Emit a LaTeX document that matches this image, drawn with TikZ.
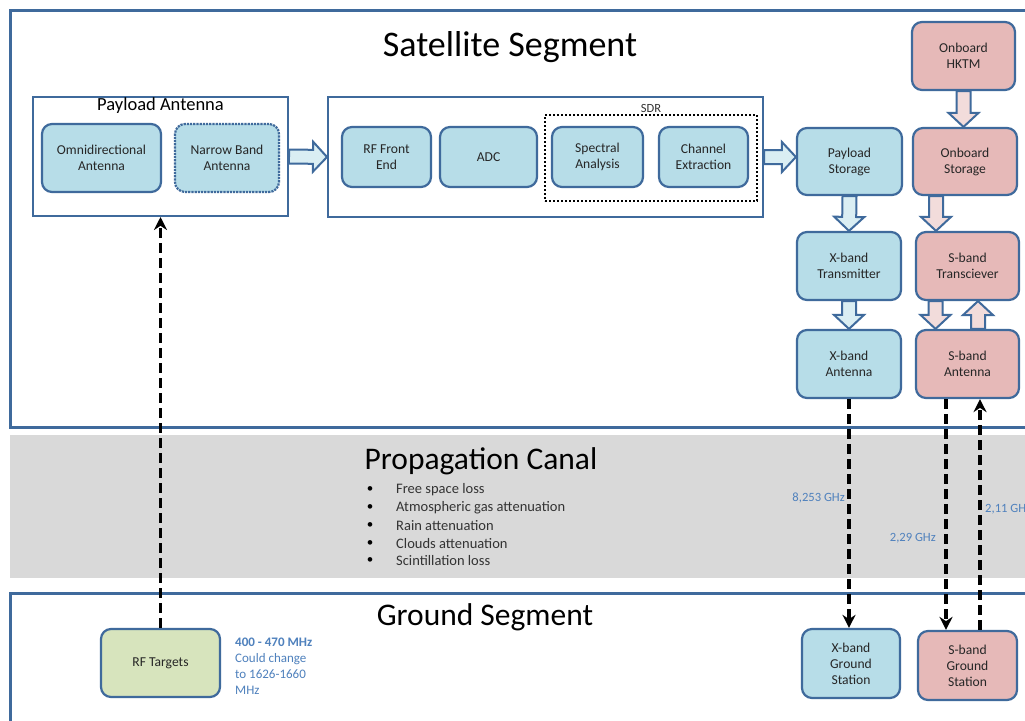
\documentclass[tikz,border=0pt]{standalone}
\usepackage{fontspec}
\setmainfont{Carlito}
\usetikzlibrary{arrows.meta, calc}

\definecolor{frameblue}{HTML}{3F6A9C}
\definecolor{boxblue}{HTML}{B7DDE8}
\definecolor{boxred}{HTML}{E6B9B8}
\definecolor{boxgreen}{HTML}{D7E4BD}
\definecolor{lightblue}{HTML}{DAEEF3}
\definecolor{lightred}{HTML}{F2DCDB}
\definecolor{canalgray}{HTML}{D9D9D9}
\definecolor{freqblue}{HTML}{4F81BD}

% block arrow between two points: from, to, fill
\newcommand\fatarrow[3]{%
  \filldraw[draw=frameblue, line width=2pt, fill=#3, line join=miter]
    let \p1=#1, \p2=#2, \n1={veclen(\x2-\x1,\y2-\y1)}, \n2={atan2(\y2-\y1,\x2-\x1)} in
    {[shift={(\p1)}, rotate=\n2]
     (0,-7) -- ({\n1-14},-7) -- ({\n1-14},-15) -- (\n1,0) -- ({\n1-14},15) -- ({\n1-14},7) -- (0,7) -- cycle};
}

\begin{document}
\begin{tikzpicture}[x=1pt,y=-1pt,
    frame/.style={draw=frameblue, line width=3pt},
    block/.style={draw=frameblue, line width=2.2pt, rounded corners=10pt, align=center,
      font=\fontsize{13.6}{16}\selectfont, text=black!85, inner sep=2pt},
    group/.style={draw=frameblue, line width=2pt, fill=white},
    title/.style={font=\fontsize{31.5}{34}\selectfont},
    freq/.style={text=freqblue, font=\fontsize{12.6}{14}\selectfont, inner sep=2pt},
    dasharrow/.style={line width=3.5pt, dash pattern=on 10pt off 5pt, -{Stealth[length=13pt,width=13pt]}}]
  \clip (0,0) rectangle (1025,720);
  \fill[white] (0,0) rectangle (1025,720);

  % segments
  \draw[frame] (10,10) rectangle (1045,427);
  \fill[canalgray] (10,435) rectangle (1045,578);
  \draw[frame] (10,593) rectangle (1045,745);
  \node[title, font=\fontsize{36}{40}\selectfont] (sattitle) at (510,47) {Satellite Segment};
  \node[title] (canaltitle) at (481,461) {Propagation Canal};
  \node[title] (gndtitle) at (485,617) {Ground Segment};

  % propagation losses
  \foreach \txt [count=\i] in {Free space loss, Atmospheric gas attenuation, Rain attenuation,
      Clouds attenuation, Scintillation loss} {
    \node[font=\fontsize{13}{15}\selectfont] (bullet\i) at (370,{472+17.8*\i}) {•};
    \node[anchor=west, inner sep=0pt, text=black!80, font=\fontsize{14.5}{16}\selectfont]
      (loss\i) at (396,{472+17.8*\i}) {\txt};
  }

  % payload antenna
  \node[group, minimum width=255pt, minimum height=119pt] (payant) at (160.5,156.5) {};
  \node[anchor=north, inner sep=1.5pt, font=\fontsize{18.5}{20}\selectfont] (payanttitle) at (payant.north) {Payload Antenna};
  \node[block, fill=boxblue, minimum width=119pt, minimum height=68pt] (omni) at (101.5,158) {Omnidirectional\\Antenna};
  \node[block, fill=boxblue, densely dotted, minimum width=104pt, minimum height=68pt] (narrow) at (227,158) {Narrow Band\\Antenna};

  % SDR
  \node[group, minimum width=435pt, minimum height=120pt] (sdr) at (545.5,157) {};
  \node[draw, line width=2pt, dotted, minimum width=212pt, minimum height=86pt] (dsp) at (651,158) {};
  \node[anchor=south, inner sep=1.5pt, font=\fontsize{12.5}{14}\selectfont, text=black!80] (sdrtitle) at (dsp.north) {SDR};
  \node[block, fill=boxblue, minimum width=89pt, minimum height=60pt] (rffe) at (386.5,157) {RF Front\\End};
  \node[block, fill=boxblue, minimum width=97pt, minimum height=60pt] (adc) at (488.5,157) {ADC};
  \node[block, fill=boxblue, minimum width=91pt, minimum height=60pt] (spec) at (597.5,157) {Spectral\\Analysis};
  \node[block, fill=boxblue, minimum width=89pt, minimum height=60pt] (chan) at (703.5,157) {Channel\\Extraction};

  % payload chain
  \node[block, fill=boxblue, minimum width=105pt, minimum height=67pt] (pstor) at (849.5,161.5) {Payload\\Storage};
  \node[block, fill=boxblue, minimum width=104pt, minimum height=68pt] (xtx) at (849,266) {X-band\\Transmitter};
  \node[block, fill=boxblue, minimum width=104pt, minimum height=68pt] (xant) at (849,364) {X-band\\Antenna};

  % housekeeping chain
  \node[block, fill=boxred, minimum width=103pt, minimum height=68pt] (hktm) at (963.5,56) {Onboard\\HKTM};
  \node[block, fill=boxred, minimum width=104pt, minimum height=67pt] (ostor) at (965,161.5) {Onboard\\Storage};
  \node[block, fill=boxred, minimum width=103pt, minimum height=68pt] (stx) at (967.5,266) {S-band\\Transciever};
  \node[block, fill=boxred, minimum width=103pt, minimum height=68pt] (sant) at (967.5,364) {S-band\\Antenna};

  % ground
  \node[block, fill=boxgreen, minimum width=119pt, minimum height=68pt] (rft) at (160.5,663) {RF Targets};
  \node[block, fill=boxblue, minimum width=98pt, minimum height=69pt] (xgs) at (851,663.5) {X-band\\Ground\\Station};
  \node[block, fill=boxred, minimum width=99pt, minimum height=69pt] (sgs) at (967.5,665.5) {S-band\\Ground\\Station};

  % block arrows
  \fatarrow{(payant.east)}{(sdr.west)}{lightblue}
  \fatarrow{(sdr.east)}{(pstor.west |- sdr.east)}{lightblue}
  \fatarrow{(pstor.south)}{(xtx.north)}{lightblue}
  \fatarrow{(xtx.south)}{(xant.north)}{lightblue}
  \fatarrow{(hktm.south)}{(hktm.south |- ostor.north)}{lightred}
  \coordinate (ostordown) at ([xshift=-29pt]ostor.south);
  \fatarrow{(ostordown)}{(ostordown |- stx.north)}{lightred}
  \coordinate (stxdown) at ([xshift=-32pt]stx.south);
  \fatarrow{(stxdown)}{(stxdown |- sant.north)}{lightred}
  \coordinate (santup) at ([xshift=10.5pt]sant.north);
  \fatarrow{(santup)}{(santup |- stx.south)}{lightred}

  % radio links
  \draw[dasharrow] (rft.north) -- (payant.south);
  \draw[dasharrow] (xant.south) -- (xant.south |- xgs.north);
  \coordinate (santdown) at ([xshift=-21.5pt]sant.south);
  \draw[dasharrow] (santdown) -- (santdown |- sgs.north);
  \coordinate (sgsup) at ([xshift=12.5pt]sgs.north);
  \draw[dasharrow] (sgsup) -- (sgsup |- sant.south);

  % frequencies
  \node[freq, anchor=east] (fx) at (847,498) {8,253 GHz};
  \node[freq, anchor=east] (fsdown) at (938,538) {2,29 GHz};
  \node[freq, anchor=west] (fsup) at (983,509) {2,11 GHz};
  \node[freq, anchor=north west, align=left, font=\fontsize{13}{16}\selectfont] (frft) at (233,636)
    {\textbf{400 - 470 MHz}\\Could change\\to 1626-1660\\MHz};
\end{tikzpicture}
\end{document}
